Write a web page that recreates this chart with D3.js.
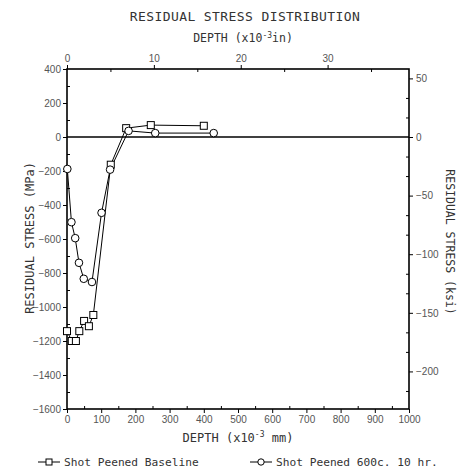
<!DOCTYPE html>
<html><head><meta charset="utf-8">
<script src="https://cdn.jsdelivr.net/npm/d3@7"></script>
<style>
body{margin:0;background:#fff;}
.tk text{font-family:"Liberation Sans",Arial,sans-serif;font-size:10px;fill:#555;}
.mono{font-family:"DejaVu Sans Mono",monospace;fill:#333;}
</style></head><body>
<svg id="c" width="458" height="474"></svg>
<script>
const depthBaseline = [0, 14, 26, 36, 50, 64, 77, 128, 173, 245, 400];
const stressBaseline = [-1142, -1200, -1200, -1142, -1082, -1113, -1047, -163, 52, 70, 66];
const depth600c = [1, 13, 24, 35, 49, 73, 101, 126, 180, 258, 429];
const stress600c = [-188, -501, -595, -740, -834, -853, -446, -192, 36, 23, 23];
const xTicks = d3.range(0, 1001, 100);
const yTicks = d3.range(-1600, 401, 200);
const topTicks = [0, 10, 20, 30];
const rightTicks = [50, 0, -50, -100, -150, -200];
const seriesNames = ["Shot Peened Baseline", "Shot Peened 600c. 10 hr."];

const svg = d3.select("#c");
const L = 67, R = 409, T = 69, B = 409;
const x = d3.scaleLinear([0, 1000], [L, R]);
const y = d3.scaleLinear([-1600, 400], [B, T]);
const xTop = d3.scaleLinear([0, 1000 / 25.4], [L, R]);
const yR = d3.scaleLinear([-1600 / 6.895, 400 / 6.895], [B, T]);

function styleAxis(g, minor) {
  g.select(".domain").remove();
  g.attr("class", "tk");
  g.selectAll("line").attr("stroke", "#000").attr("stroke-width", 1);
  if (minor) g.selectAll("text").remove();
}
const fmt = d3.format("d");
svg.append("g").attr("transform", `translate(${L},0)`)
  .call(d3.axisLeft(y).tickValues(yTicks).tickSize(4).tickPadding(2).tickFormat(fmt)).call(g => styleAxis(g));
svg.append("g").attr("transform", `translate(0,${B})`)
  .call(d3.axisBottom(x).tickValues(xTicks).tickSize(4).tickPadding(3).tickFormat(fmt)).call(g => styleAxis(g));
svg.append("g").attr("transform", `translate(0,${T})`)
  .call(d3.axisTop(xTop).tickValues(topTicks).tickSize(4).tickPadding(3).tickFormat(fmt)).call(g => styleAxis(g));
svg.append("g").attr("transform", `translate(${R},0)`)
  .call(d3.axisRight(yR).tickValues(rightTicks).tickSize(4).tickPadding(3).tickFormat(fmt)).call(g => styleAxis(g));
svg.append("g").attr("transform", `translate(${L},0)`)
  .call(d3.axisRight(y).tickValues(d3.range(-1500, 400, 200)).tickSize(3)).call(g => styleAxis(g, true));
svg.append("g").attr("transform", `translate(0,${B})`)
  .call(d3.axisTop(x).tickValues(d3.range(50, 1000, 100)).tickSize(3)).call(g => styleAxis(g, true));
svg.append("g").attr("transform", `translate(0,${T})`)
  .call(d3.axisBottom(xTop).tickValues([5, 15, 25, 35]).tickSize(3)).call(g => styleAxis(g, true));
const rMinor = [];
for (let v = 50; v > -230; v -= 50 / 3) { if (Math.abs(Math.round(v) % 50) > 1) rMinor.push(v); }
svg.append("g").attr("transform", `translate(${R},0)`)
  .call(d3.axisLeft(yR).tickValues(rMinor).tickSize(3)).call(g => styleAxis(g, true));

svg.append("rect").attr("x", L).attr("y", T).attr("width", R - L).attr("height", B - T)
  .attr("fill", "none").attr("stroke", "#000").attr("stroke-width", 1.6);
svg.append("line").attr("x1", L).attr("x2", R).attr("y1", y(0)).attr("y2", y(0))
  .attr("stroke", "#000").attr("stroke-width", 1.3);

const line = d3.line().x(d => x(d[0])).y(d => y(d[1]));
const s1 = depthBaseline.map((d, i) => [d, stressBaseline[i]]);
const s2 = depth600c.map((d, i) => [d, stress600c[i]]);
svg.append("path").attr("d", line(s1)).attr("fill", "none").attr("stroke", "#000").attr("stroke-width", 1);
svg.append("path").attr("d", line(s2)).attr("fill", "none").attr("stroke", "#000").attr("stroke-width", 1);
svg.selectAll(".sq").data(s1).join("rect")
  .attr("x", d => x(d[0]) - 3.5).attr("y", d => y(d[1]) - 3.5).attr("width", 7).attr("height", 7)
  .attr("fill", "#fff").attr("stroke", "#000").attr("stroke-width", 1);
svg.selectAll(".ci").data(s2).join("circle")
  .attr("cx", d => x(d[0])).attr("cy", d => y(d[1])).attr("r", 3.8)
  .attr("fill", "#fff").attr("stroke", "#000").attr("stroke-width", 1);

svg.append("text").attr("class", "mono").attr("x", 245).attr("y", 21).attr("text-anchor", "middle")
  .attr("font-size", 13).attr("letter-spacing", 0.4).text("RESIDUAL STRESS DISTRIBUTION");
const tt = svg.append("text").attr("class", "mono").attr("x", 243).attr("y", 42).attr("text-anchor", "middle").attr("font-size", 11.5);
tt.append("tspan").text("DEPTH (x10");
tt.append("tspan").attr("dy", -4).attr("font-size", 8).text("-3");
tt.append("tspan").attr("dy", 4).text("in)");
const bt = svg.append("text").attr("class", "mono").attr("x", 238).attr("y", 442).attr("text-anchor", "middle").attr("font-size", 12);
bt.append("tspan").text("DEPTH (x10");
bt.append("tspan").attr("dy", -5).attr("font-size", 8).text("-3");
bt.append("tspan").attr("dy", 5).text(" mm)");
svg.append("text").attr("class", "mono").attr("transform", "translate(34,238) rotate(-90)")
  .attr("text-anchor", "middle").attr("font-size", 12).text("RESIDUAL STRESS (MPa)");
svg.append("text").attr("class", "mono").attr("transform", "translate(446,242) rotate(90)")
  .attr("text-anchor", "middle").attr("font-size", 11.5).text("RESIDUAL STRESS (ksi)");

const ly = 462;
const lg = [{x0: 38, tx: 64, name: seriesNames[0], m: "sq"}, {x0: 250, tx: 276, name: seriesNames[1], m: "ci"}];
lg.forEach(o => {
  svg.append("line").attr("x1", o.x0).attr("x2", o.x0 + 22).attr("y1", ly).attr("y2", ly).attr("stroke", "#000");
  if (o.m === "sq") svg.append("rect").attr("x", o.x0 + 11 - 3).attr("y", ly - 3).attr("width", 6).attr("height", 6).attr("fill", "#fff").attr("stroke", "#000");
  else svg.append("circle").attr("cx", o.x0 + 11).attr("cy", ly).attr("r", 3.2).attr("fill", "#fff").attr("stroke", "#000");
  svg.append("text").attr("class", "mono").attr("x", o.tx).attr("y", ly + 4).attr("font-size", 11.2).text(o.name);
});
</script></body></html>
